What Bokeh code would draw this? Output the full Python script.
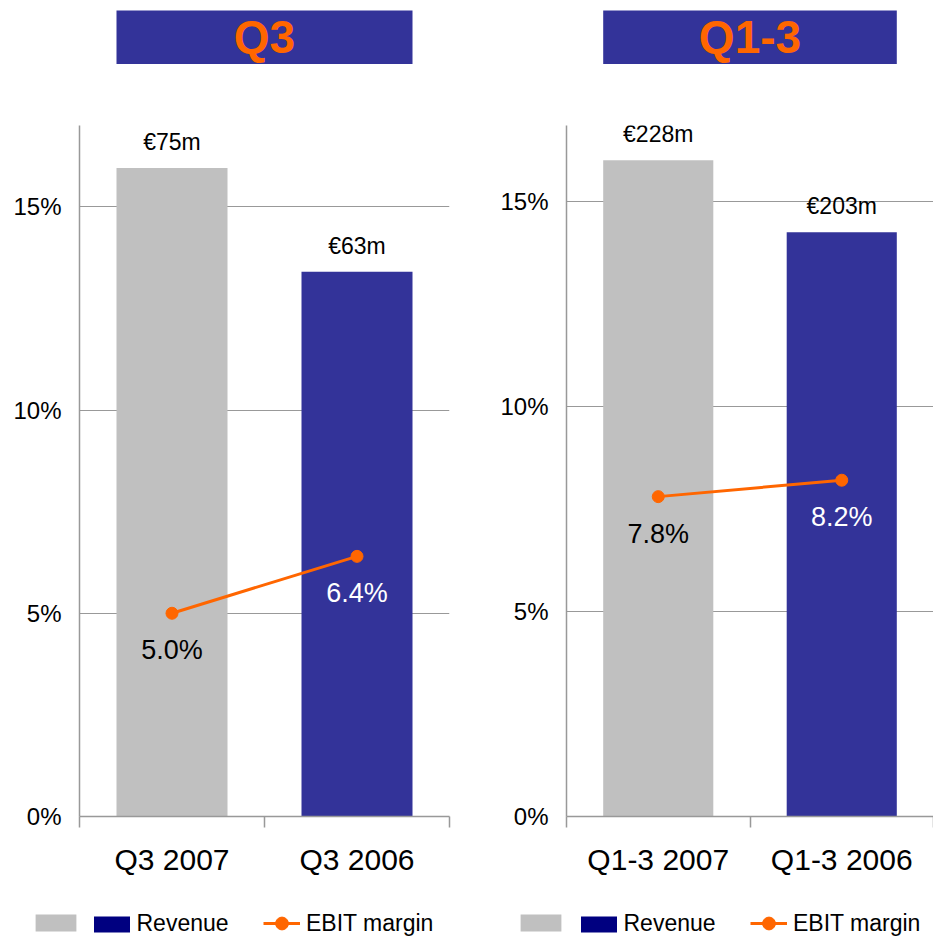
from bokeh.plotting import figure
from bokeh.models import (Range1d, FixedTicker, LinearAxis, ColumnDataSource, LabelSet,
                          Label, Legend, LegendItem, Grid, PrintfTickFormatter)
from bokeh.layouts import row, column
from bokeh.core.properties import value
from bokeh.embed import file_html
from bokeh.resources import INLINE

# ---- data ----
panel_titles = ["Q3", "Q1-3"]
categories_q3 = ["Q3 2007", "Q3 2006"]
categories_q13 = ["Q1-3 2007", "Q1-3 2006"]
revenue_q3 = [75, 63]          # EUR m
revenue_q13 = [228, 203]       # EUR m
ebit_margin_q3 = [5.0, 6.4]    # %
ebit_margin_q13 = [7.8, 8.2]   # %
y_ticks = [0, 5, 10, 15]
legend_labels = ["", "Revenue", "EBIT margin"]

# ---- styles ----
FONT = "Liberation Sans"
GREY = "#C0C0C0"
BLUE = "#333399"
NAVY = "#000080"
ORANGE = "#FF6600"
AXIS = "#999999"
bar_colors = [GREY, BLUE]
ebit_label_colors = ["black", "white"]


def panel(title, cats, rev, ebit, width, b_left, b_right, y_max, rev_max, leg_x):
    n = len(cats)
    xr = Range1d(0, n)
    xs = [i + 0.5 for i in range(n)]
    bar_w = 0.6

    # title box
    t = figure(width=width, height=120, x_range=xr, y_range=Range1d(-1.056, 1.187),
               toolbar_location=None, output_backend="svg", x_axis_type=None, y_axis_type=None,
               min_border_left=b_left, min_border_right=b_right, min_border_top=0, min_border_bottom=0)
    t.outline_line_color = None
    t.grid.visible = False
    t.quad(left=[xs[0] - bar_w / 2], right=[xs[-1] + bar_w / 2], bottom=[0], top=[1],
           fill_color=BLUE, line_color=None)
    t.add_layout(Label(x=(xs[0] + xs[-1]) / 2, y=0.5, text=title, text_align="center",
                       text_baseline="middle", text_font=FONT, text_font_size="46px",
                       text_font_style="bold", text_color=ORANGE))

    # main chart
    p = figure(width=width, height=758, x_range=xr, y_range=Range1d(0, y_max),
               toolbar_location=None, output_backend="svg", x_axis_type=None, y_axis_type=None,
               min_border_left=b_left, min_border_right=b_right, min_border_top=5, min_border_bottom=62)
    p.outline_line_color = None
    p.extra_y_ranges = {"rev": Range1d(0, rev_max)}

    yaxis = LinearAxis(ticker=FixedTicker(ticks=y_ticks), formatter=PrintfTickFormatter(format="%d%%"),
                       axis_line_color=AXIS, axis_line_width=1.5,
                       major_tick_in=0, major_tick_out=0, major_tick_line_color=None,
                       minor_tick_line_color=None, major_label_standoff=18,
                       major_label_text_font=FONT, major_label_text_font_size="24px",
                       major_label_text_color="black")
    p.add_layout(yaxis, "left")

    xaxis = LinearAxis(ticker=FixedTicker(ticks=xs, minor_ticks=list(range(n + 1))),
                       major_label_overrides={x: c for x, c in zip(xs, cats)},
                       axis_line_color=AXIS, axis_line_width=1.5,
                       major_tick_in=0, major_tick_out=11, major_tick_line_color=None,
                       minor_tick_in=0, minor_tick_out=11, minor_tick_line_color=AXIS,
                       minor_tick_line_width=1.5, major_label_standoff=15,
                       major_label_text_font=FONT, major_label_text_font_size="30px",
                       major_label_text_color="black")
    p.add_layout(xaxis, "below")

    p.add_layout(Grid(dimension=1, ticker=FixedTicker(ticks=y_ticks[1:]),
                      grid_line_color=AXIS, grid_line_width=1))

    src = ColumnDataSource(dict(
        x=xs, rev=rev, rev_text=[f"€{v}m" for v in rev], color=bar_colors,
        ebit=ebit, ebit_text=[f"{v:.1f}%" for v in ebit], ebit_color=ebit_label_colors))

    p.vbar(x="x", top="rev", width=bar_w, fill_color="color", line_color=None,
           source=src, y_range_name="rev")
    p.line("x", "ebit", source=src, line_color=ORANGE, line_width=3)
    p.scatter("x", "ebit", source=src, size=12, fill_color=ORANGE, line_color=ORANGE)

    p.add_layout(LabelSet(x="x", y="rev", text="rev_text", source=src, y_range_name="rev",
                          y_offset=26, text_align="center", text_baseline="middle",
                          text_font=value(FONT), text_font_size=value("23px"), text_color="black"))
    p.add_layout(LabelSet(x="x", y="ebit", text="ebit_text", source=src, y_offset=-37,
                          text_align="center", text_baseline="middle",
                          text_font=value(FONT), text_font_size=value("27px"),
                          text_color="ebit_color"))

    # legend strip (swatch renderers sit outside the visible range)
    lg = figure(width=width, height=58, x_range=Range1d(0, 1), y_range=Range1d(0, 1),
                toolbar_location=None, output_backend="svg", x_axis_type=None, y_axis_type=None,
                min_border=0, min_border_left=0, min_border_right=0, frame_align=False)
    lg.outline_line_color = None
    lg.grid.visible = False
    r_grey = lg.vbar(x=[-10], top=[-5], width=0.5, fill_color=GREY, line_color=None)
    r_navy = lg.vbar(x=[-10], top=[-5], width=0.5, fill_color=NAVY, line_color=None)
    r_line = lg.line(x=[-10, -9], y=[-5, -5], line_color=ORANGE, line_width=3)
    r_dot = lg.scatter(x=[-10], y=[-5], size=12, fill_color=ORANGE, line_color=ORANGE)

    specs = [
        ([LegendItem(label=legend_labels[0], renderers=[r_grey])], (leg_x[0], 3), 51, 21, 0),
        ([LegendItem(label=legend_labels[1], renderers=[r_navy])], (leg_x[1], -1), 45, 20, 3),
        ([LegendItem(label=legend_labels[2], renderers=[r_line, r_dot])], (leg_x[2], -3), 37, 32, 6),
    ]
    for items, loc, gw, gh, so in specs:
        lg.add_layout(Legend(items=items, location=loc, glyph_width=gw, glyph_height=gh,
                             label_standoff=so, padding=0, margin=0, spacing=0,
                             border_line_color=None, background_fill_alpha=0,
                             label_text_font=FONT, label_text_font_size="23px",
                             label_text_color="black"))
    return column(t, p, lg)


left = panel(panel_titles[0], categories_q3, revenue_q3, ebit_margin_q3,
             466, 79, 17, 17.0, 79.9, [30, 88.5, 263])
right = panel(panel_titles[1], categories_q13, revenue_q13, ebit_margin_q13,
              467, 100, 0, 16.85, 240.1, [49, 109.5, 284])

layout = row(left, right)
open("out.html", "w").write(file_html(layout, INLINE))
